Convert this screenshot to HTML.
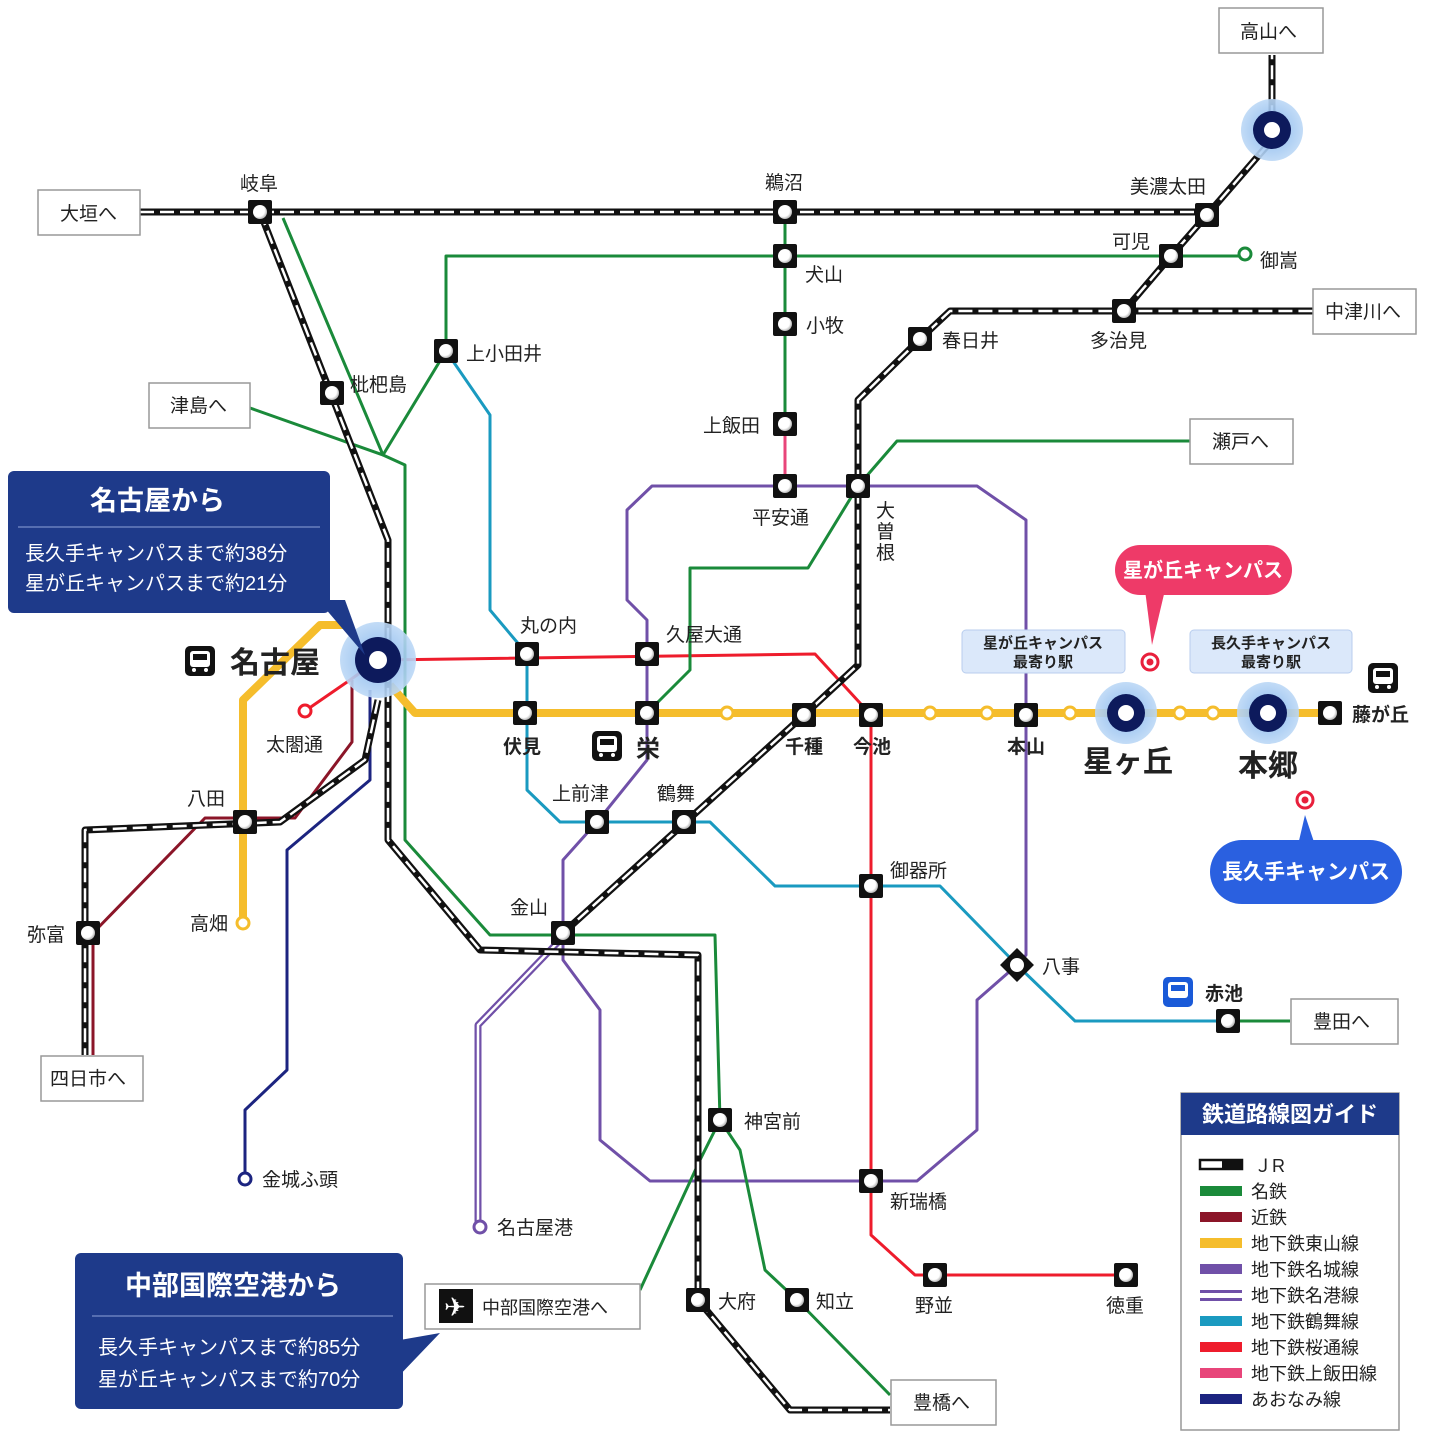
<!DOCTYPE html>
<html><head><meta charset="utf-8"><style>
html,body{margin:0;padding:0;background:#fff}
svg{display:block}
text{font-family:"Liberation Sans","Noto Sans CJK JP",sans-serif;fill:#222}
</style></head><body>
<svg width="1432" height="1446" viewBox="0 0 1432 1446" xmlns="http://www.w3.org/2000/svg">
<defs>
<radialGradient id="wc" cx="0.4" cy="0.4" r="0.6"><stop offset="0" stop-color="#fff"/><stop offset="0.7" stop-color="#fff"/><stop offset="1" stop-color="#bbb"/></radialGradient>
<radialGradient id="halo" cx="0.5" cy="0.5" r="0.5"><stop offset="0.5" stop-color="#9cc4f0"/><stop offset="1" stop-color="#bcd8f6"/></radialGradient>
<g id="st"><rect x="-12" y="-12" width="24" height="24" rx="2" fill="#111"/><circle r="7" fill="url(#wc)"/></g>
<g id="big"><circle r="38" fill="url(#halo)" opacity="0.9"/><circle r="23" fill="#0d1a5c"/><circle r="9" fill="#fff"/></g>
<g id="mid"><circle r="31" fill="url(#halo)" opacity="0.9"/><circle r="19" fill="#0d1a5c"/><circle r="8" fill="#fff"/></g>
<g id="ys"><circle r="6" fill="#fff" stroke="#f5bd2c" stroke-width="3"/></g>
<g id="bus"><rect x="-15" y="-15" width="30" height="30" rx="5" fill="#111"/><rect x="-10" y="-10" width="20" height="16" rx="3" fill="#fff"/><rect x="-7" y="-7" width="14" height="6" fill="#111"/><circle cx="-6" cy="9" r="2" fill="#fff"/><circle cx="6" cy="9" r="2" fill="#fff"/></g>
</defs>

<g fill="none" stroke-linejoin="round">
<polyline points="370,690 370,780 287,850 287,1070 245,1110 245,1178" stroke="#1c2480" stroke-width="3"/>
<circle cx="245" cy="1179" r="6" fill="#fff" stroke="#1c2480" stroke-width="3"/>
<polyline points="352,680 352,742 295,818 205,818 93,933 93,1055" stroke="#8b1528" stroke-width="3"/>
<polyline points="560,940 478,1025 478,1225" stroke="#7050a8" stroke-width="7"/>
<polyline points="560,940 478,1025 478,1225" stroke="#fff" stroke-width="2.5"/>
<circle cx="480" cy="1227" r="6" fill="#fff" stroke="#7050a8" stroke-width="3"/>
<polyline points="858,486 977,486 1026,520 1026,955 1017,965 977,1000 977,1130 917,1181 650,1181 600,1140 600,1010 563,960 563,860 597,822 647,760 647,620 627,600 627,510 652,486 858,486" stroke="#7050a8" stroke-width="3"/>
<polyline points="446,351 490,415 490,610 527,654 527,790 560,822 710,822 775,886 940,886 1017,965 1075,1021 1228,1021" stroke="#1a9ac0" stroke-width="3"/>
<polyline points="305,711 350,680 378,660 815,654 871,715 871,1235 915,1275 1126,1275" stroke="#ee1c2c" stroke-width="3"/>
<circle cx="305" cy="711" r="6" fill="#fff" stroke="#ee1c2c" stroke-width="3"/>
<line x1="785" y1="424" x2="785" y2="486" stroke="#e8457a" stroke-width="3"/>
<g stroke="#1a8a3a" stroke-width="3">
<polyline points="283,218 383,455 405,465 405,840 490,935 715,935 720,1120 740,1150 765,1270 797,1300 890,1395"/>
<polyline points="785,212 785,424"/>
<polyline points="250,408 383,455 446,351 446,256 1245,256"/>
<polyline points="1190,441 897,441 858,486 808,568 690,568 690,670 647,713"/>
<polyline points="720,1120 700,1160 640,1290"/>
<polyline points="1228,1021 1290,1021"/>
</g>
<circle cx="1245" cy="254" r="6" fill="#fff" stroke="#1a8a3a" stroke-width="3"/>
<polyline points="243,923 243,700 320,625 350,625" stroke="#f5bd2c" stroke-width="8"/>
<polyline points="390,685 415,713 1330,713" stroke="#f5bd2c" stroke-width="8"/>
<circle cx="243" cy="923" r="6" fill="#fff" stroke="#f5bd2c" stroke-width="3"/>
</g>
<g fill="none" stroke="#111" stroke-width="7" stroke-linejoin="round">
<polyline points="140,212 1207,212"/><polyline points="1207,215 1272,140 1272,55"/>
<polyline points="260,212 388,540 388,840 480,950 698,955 698,1300 790,1410 890,1410"/>
<polyline points="563,933 804,715 858,665 858,400 920,339 950,311 1313,311"/>
<polyline points="1124,311 1171,256 1207,215"/>
<polyline points="378,700 365,760 280,822 85,830 85,1055"/>
</g>
<g fill="none" stroke="#fff" stroke-width="2.5" stroke-dasharray="14 6" stroke-linejoin="round">
<polyline points="140,212 1207,212"/><polyline points="1207,215 1272,140 1272,55"/>
<polyline points="260,212 388,540 388,840 480,950 698,955 698,1300 790,1410 890,1410"/>
<polyline points="563,933 804,715 858,665 858,400 920,339 950,311 1313,311"/>
<polyline points="1124,311 1171,256 1207,215"/>
<polyline points="378,700 365,760 280,822 85,830 85,1055"/>
</g>

<use href="#ys" x="727" y="713"/><use href="#ys" x="930" y="713"/><use href="#ys" x="987" y="713"/><use href="#ys" x="1070" y="713"/><use href="#ys" x="1180" y="713"/><use href="#ys" x="1213" y="713"/>

<use href="#st" x="260" y="212"/><use href="#st" x="785" y="212"/><use href="#st" x="1207" y="215"/><use href="#st" x="1171" y="256"/>
<use href="#st" x="1124" y="311"/><use href="#st" x="920" y="339"/><use href="#st" x="785" y="256"/><use href="#st" x="785" y="324"/>
<use href="#st" x="785" y="424"/><use href="#st" x="785" y="486"/><use href="#st" x="858" y="486"/><use href="#st" x="446" y="351"/>
<use href="#st" x="332" y="393"/><use href="#st" x="527" y="654"/><use href="#st" x="647" y="654"/><use href="#st" x="525" y="713"/>
<use href="#st" x="647" y="713"/><use href="#st" x="804" y="715"/><use href="#st" x="871" y="715"/><use href="#st" x="1026" y="715"/>
<use href="#st" x="1330" y="713"/><use href="#st" x="597" y="822"/><use href="#st" x="684" y="822"/><use href="#st" x="871" y="886"/>
<use href="#st" x="563" y="933"/><use href="#st" x="245" y="822"/><use href="#st" x="88" y="933"/><use href="#st" x="720" y="1120"/>
<use href="#st" x="871" y="1181"/><use href="#st" x="935" y="1275"/><use href="#st" x="1126" y="1275"/><use href="#st" x="698" y="1300"/>
<use href="#st" x="797" y="1300"/><use href="#st" x="1228" y="1021"/>
<g transform="translate(1017,965) rotate(45)"><rect x="-12" y="-12" width="24" height="24" fill="#111"/><circle r="7" fill="#fff"/></g>

<use href="#big" x="378" y="660"/>
<use href="#mid" x="1126" y="713"/><use href="#mid" x="1268" y="713"/><use href="#mid" x="1272" y="130"/>

<use href="#bus" x="200" y="661"/><use href="#bus" x="607" y="746"/><use href="#bus" x="1383" y="678"/>
<g transform="translate(1178,992)"><rect x="-15" y="-15" width="30" height="30" rx="5" fill="#1a5ad8"/><rect x="-10" y="-10" width="20" height="16" rx="3" fill="#fff"/><rect x="-7" y="-7" width="14" height="6" fill="#1a5ad8"/></g>

<g fill="#fff" stroke="#999" stroke-width="1.5">
<rect x="38" y="190" width="102" height="45"/><rect x="1219" y="8" width="104" height="45"/>
<rect x="1313" y="289" width="103" height="45"/><rect x="149" y="383" width="101" height="45"/>
<rect x="1190" y="419" width="103" height="45"/><rect x="1291" y="999" width="107" height="45"/>
<rect x="41" y="1056" width="102" height="45"/><rect x="425" y="1284" width="215" height="45"/>
<rect x="891" y="1380" width="105" height="45"/>
</g>
<g font-size="19">
<text x="60" y="220">大垣へ</text><text x="1240" y="38">高山へ</text><text x="1325" y="318">中津川へ</text>
<text x="170" y="412">津島へ</text><text x="1212" y="448">瀬戸へ</text><text x="1313" y="1028">豊田へ</text>
<text x="50" y="1085">四日市へ</text><text x="482" y="1314" font-size="18">中部国際空港へ</text><text x="913" y="1409">豊橋へ</text>
</g>
<g transform="translate(456,1306)"><rect x="-17" y="-17" width="34" height="34" fill="#111"/><text x="-12" y="10" font-size="26" style="fill:#fff">✈</text></g>

<g font-size="19">
<text x="240" y="190">岐阜</text><text x="765" y="189">鵜沼</text><text x="1130" y="193">美濃太田</text><text x="1112" y="248">可児</text>
<text x="1260" y="267">御嵩</text><text x="1090" y="347">多治見</text><text x="942" y="347">春日井</text><text x="805" y="281">犬山</text>
<text x="806" y="332">小牧</text><text x="703" y="432">上飯田</text><text x="752" y="524">平安通</text><text x="466" y="360">上小田井</text>
<text x="350" y="391">枇杷島</text><text x="520" y="632">丸の内</text><text x="666" y="641">久屋大通</text><text x="266" y="751">太閤通</text>
<text x="187" y="805">八田</text><text x="27" y="941">弥富</text><text x="190" y="930">高畑</text><text x="552" y="800">上前津</text>
<text x="657" y="800">鶴舞</text><text x="890" y="877">御器所</text><text x="510" y="914">金山</text><text x="1042" y="973">八事</text>
<text x="744" y="1128">神宮前</text><text x="890" y="1208">新瑞橋</text><text x="915" y="1312">野並</text><text x="1106" y="1312">徳重</text>
<text x="718" y="1308">大府</text><text x="816" y="1308">知立</text><text x="262" y="1186">金城ふ頭</text><text x="497" y="1234">名古屋港</text>
</g>
<g font-size="19" font-weight="bold">
<text x="503" y="753">伏見</text><text x="636" y="757" font-size="24">栄</text><text x="785" y="753">千種</text><text x="853" y="753">今池</text>
<text x="1007" y="753">本山</text><text x="1352" y="721">藤が丘</text><text x="1205" y="1000">赤池</text>
</g>
<g font-size="19"><text x="876" y="517">大</text><text x="876" y="538">曽</text><text x="876" y="559">根</text></g>
<text x="230" y="673" font-size="30" font-weight="bold">名古屋</text>
<text x="1083" y="772" font-size="30" font-weight="bold">星ヶ丘</text>
<text x="1238" y="776" font-size="30" font-weight="bold">本郷</text>

<polygon points="318,600 365,655 345,600" fill="#1e3a8a"/>
<rect x="8" y="471" width="322" height="142" rx="6" fill="#1e3a8a"/>
<line x1="18" y1="527" x2="320" y2="527" stroke="#8fa3d8" stroke-width="1"/>
<text x="90" y="510" font-size="27" font-weight="bold" style="fill:#fff">名古屋から</text>
<text x="25" y="560" font-size="20" style="fill:#fff">長久手キャンパスまで約38分</text>
<text x="25" y="590" font-size="20" style="fill:#fff">星が丘キャンパスまで約21分</text>

<polygon points="395,1380 440,1333 400,1340" fill="#1e3a8a"/>
<rect x="75" y="1253" width="328" height="156" rx="6" fill="#1e3a8a"/>
<line x1="92" y1="1316" x2="393" y2="1316" stroke="#8fa3d8" stroke-width="1"/>
<text x="125" y="1295" font-size="27" font-weight="bold" style="fill:#fff">中部国際空港から</text>
<text x="98" y="1354" font-size="20" style="fill:#fff">長久手キャンパスまで約85分</text>
<text x="98" y="1386" font-size="20" style="fill:#fff">星が丘キャンパスまで約70分</text>

<rect x="962" y="630" width="163" height="43" rx="4" fill="#dbe8fa" stroke="#b8cdee"/>
<text x="1043" y="648" font-size="15" font-weight="bold" text-anchor="middle">星が丘キャンパス</text>
<text x="1043" y="667" font-size="15" font-weight="bold" text-anchor="middle">最寄り駅</text>
<rect x="1190" y="630" width="162" height="43" rx="4" fill="#dbe8fa" stroke="#b8cdee"/>
<text x="1271" y="648" font-size="15" font-weight="bold" text-anchor="middle">長久手キャンパス</text>
<text x="1271" y="667" font-size="15" font-weight="bold" text-anchor="middle">最寄り駅</text>

<polygon points="1145,590 1152,645 1165,590" fill="#ee3a68"/>
<rect x="1115" y="545" width="177" height="50" rx="25" fill="#ee3a68"/>
<text x="1203" y="577" font-size="20" font-weight="bold" text-anchor="middle" style="fill:#fff">星が丘キャンパス</text>
<circle cx="1150" cy="662" r="8" fill="#fff" stroke="#e8203c" stroke-width="3"/><circle cx="1150" cy="662" r="3.5" fill="#e8203c"/>

<polygon points="1298,845 1305,815 1315,845" fill="#2a60e0"/>
<rect x="1210" y="840" width="192" height="64" rx="32" fill="#2a60e0"/>
<text x="1306" y="879" font-size="21" font-weight="bold" text-anchor="middle" style="fill:#fff">長久手キャンパス</text>
<circle cx="1305" cy="800" r="8" fill="#fff" stroke="#e8203c" stroke-width="3"/><circle cx="1305" cy="800" r="3.5" fill="#e8203c"/>

<rect x="1181" y="1093" width="218" height="337" fill="#fff" stroke="#999" stroke-width="1.5"/>
<rect x="1181" y="1093" width="218" height="42" fill="#1e3a8a"/>
<text x="1290" y="1122" font-size="22" font-weight="bold" text-anchor="middle" style="fill:#fff">鉄道路線図ガイド</text>
<rect x="1200" y="1160" width="42" height="9" fill="#fff" stroke="#111" stroke-width="2.5"/><rect x="1222" y="1160" width="20" height="9" fill="#111"/>
<rect x="1200" y="1186" width="42" height="10" fill="#1a8a3a"/>
<rect x="1200" y="1212" width="42" height="10" fill="#8b1528"/>
<rect x="1200" y="1238" width="42" height="10" fill="#f5bd2c"/>
<rect x="1200" y="1264" width="42" height="10" fill="#7050a8"/>
<rect x="1200" y="1290" width="42" height="3" fill="#7050a8"/><rect x="1200" y="1298" width="42" height="3" fill="#7050a8"/>
<rect x="1200" y="1316" width="42" height="10" fill="#1a9ac0"/>
<rect x="1200" y="1342" width="42" height="10" fill="#ee1c2c"/>
<rect x="1200" y="1368" width="42" height="10" fill="#e8457a"/>
<rect x="1200" y="1394" width="42" height="10" fill="#1c2480"/>
<g font-size="18">
<text x="1254" y="1172">ＪR</text><text x="1251" y="1198">名鉄</text><text x="1251" y="1224">近鉄</text>
<text x="1251" y="1250">地下鉄東山線</text><text x="1251" y="1276">地下鉄名城線</text><text x="1251" y="1302">地下鉄名港線</text>
<text x="1251" y="1328">地下鉄鶴舞線</text><text x="1251" y="1354">地下鉄桜通線</text><text x="1251" y="1380">地下鉄上飯田線</text>
<text x="1251" y="1406">あおなみ線</text>
</g>
</svg>
</body></html>
